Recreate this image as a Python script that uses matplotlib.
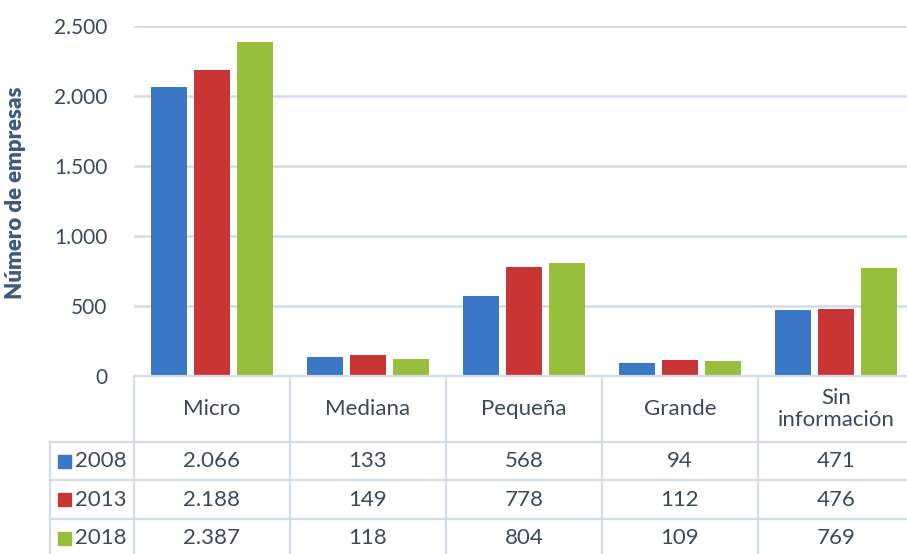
import numpy as np
import matplotlib.pyplot as plt
from matplotlib.patches import Rectangle


# ----------------------------------------
# DATA
# ----------------------------------------

categories = ["Micro", "Mediana", "Pequeña", "Grande", "Sin\ninformación"]

years = ["2008", "2013", "2018"]

values_2008 = [2066, 133, 568, 94, 471]
values_2013 = [2188, 149, 778, 112, 476]
values_2018 = [2387, 118, 804, 109, 769]

y_ticks = [0, 500, 1000, 1500, 2000, 2500]
y_tick_labels = ["0", "500", "1.000", "1.500", "2.000", "2.500"]

colors = ["#3a77c6", "#c93434", "#98bf3c"]

text_color = "#3a4a5c"
line_color = "#d3dcea"

plt.rcParams["font.family"] = ["Lato", "DejaVu Sans"]


def fmt(v):
    return f"{v:,}".replace(",", ".")


# ----------------------------------------
# FIGURE
# ----------------------------------------

W, H = 907, 554
fig = plt.figure(figsize=(W / 100, H / 100), dpi=100)

left_px, right_px = 134, 914
top_px, zero_px = 26, 376

ax = fig.add_axes([
    left_px / W,
    (H - zero_px) / H,
    (right_px - left_px) / W,
    (zero_px - top_px) / H
])

series = [values_2008, values_2013, values_2018]
x = np.arange(len(categories))
bar_w = 0.23
step = 0.276

for i, vals in enumerate(series):
    ax.bar(
        x + (i - 1) * step,
        vals,
        width=bar_w,
        color=colors[i],
        zorder=3
    )

ax.set_xlim(-0.5, len(categories) - 0.5)
ax.set_ylim(0, 2500)
ax.set_yticks(y_ticks)
ax.set_yticklabels(y_tick_labels, fontsize=15, color=text_color)
ax.tick_params(axis="y", length=0, pad=19)
ax.set_xticks([])
ax.grid(axis="y", color=line_color, linewidth=1.8, zorder=0)
for s in ax.spines.values():
    s.set_visible(False)

fig.text(
    16 / W, 1 - 193 / H,
    "Número de empresas",
    rotation=90, ha="center", va="center",
    fontsize=16, fontweight="heavy", color="#3b5a7e"
)

# ----------------------------------------
# DATA TABLE
# ----------------------------------------

tab = fig.add_axes([
    left_px / W,
    0,
    (right_px - left_px) / W,
    (H - zero_px) / H
])
tab.set_xlim(-0.5, len(categories) - 0.5)
tab_h = H - zero_px
tab.set_ylim(0, tab_h)
tab.axis("off")

px_per_cat = (right_px - left_px) / len(categories)
left_col = -0.5 - (left_px - 50) / px_per_cat

header_bottom = H - 442
row_lines = [H - 442, H - 480, H - 519, H - 558]
lw = 1.6

# header top line and vertical lines
tab.plot([-0.5, len(categories) - 0.5], [tab_h, tab_h],
         color=line_color, lw=lw, clip_on=False)
for b in np.arange(-0.5, len(categories), 1.0):
    tab.plot([b, b], [tab_h, row_lines[-1]],
             color=line_color, lw=lw, clip_on=False)
tab.plot([left_col, left_col], [header_bottom, row_lines[-1]],
         color=line_color, lw=lw, clip_on=False)
for y in row_lines:
    tab.plot([left_col, len(categories) - 0.5], [y, y],
             color=line_color, lw=lw, clip_on=False)

# header labels
for i, c in enumerate(categories):
    tab.text(i, (tab_h + header_bottom) / 2, c,
             ha="center", va="center", fontsize=16,
             color=text_color, linespacing=1.15)

# rows
sq = 13 / px_per_cat
for r, (yr, vals) in enumerate(zip(years, series)):
    yc = (row_lines[r] + row_lines[r + 1]) / 2
    tab.add_patch(Rectangle(
        (left_col + 8 / px_per_cat, yc - 6.5), sq, 13,
        color=colors[r], clip_on=False
    ))
    tab.text(left_col + 25 / px_per_cat, yc, yr,
             ha="left", va="center", fontsize=16, color=text_color)
    for i, v in enumerate(vals):
        tab.text(i, yc, fmt(v), ha="center", va="center",
                 fontsize=16, color=text_color)

fig.savefig("out.png", dpi=100)
